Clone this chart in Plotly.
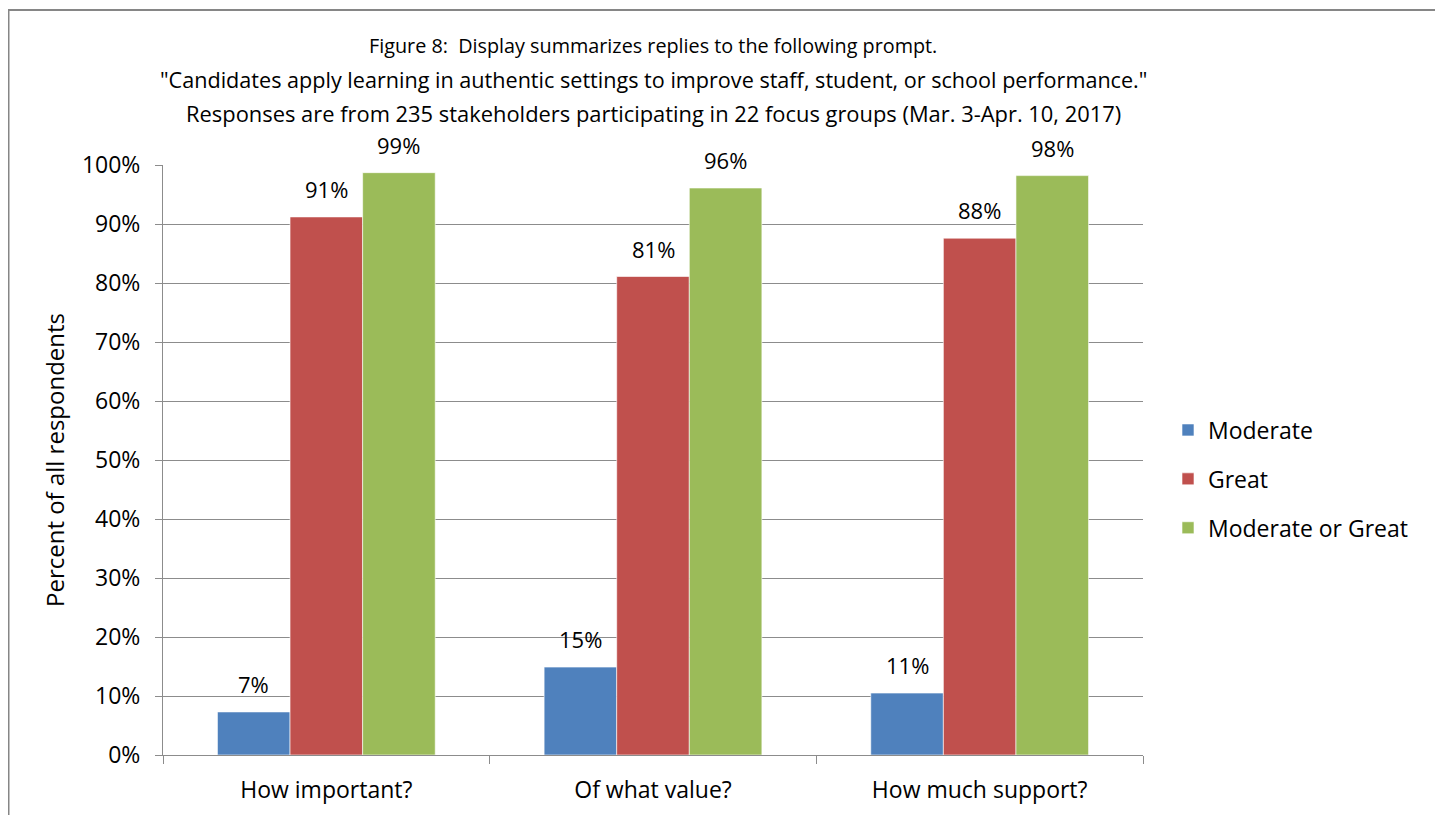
import plotly.graph_objects as go

categories = ["How important?", "Of what value?", "How much support?"]
series_names = ["Moderate", "Great", "Moderate or Great"]
moderate = [7.3, 14.9, 10.5]
great = [91.2, 81.1, 87.6]
moderate_or_great = [98.7, 96.1, 98.2]
labels_moderate = ["7%", "15%", "11%"]
labels_great = ["91%", "81%", "88%"]
labels_mog = ["99%", "96%", "98%"]
colors = ["#4F81BD", "#C0504D", "#9BBB59"]
y_ticks = [0, 10, 20, 30, 40, 50, 60, 70, 80, 90, 100]
y_tick_text = [f"{t}%" for t in y_ticks]
title_lines = [
    "Figure 8:&nbsp; Display summarizes replies to the following prompt.",
    "\"Candidates apply learning in authentic settings to improve staff, student, or school performance.\"",
    "Responses are from 235 stakeholders participating in 22 focus groups (Mar. 3-Apr. 10, 2017)",
]

FONT = "Open Sans"
OFF = 8  # page body margin
W, H = 1443, 815
L, R, T, B = 163 - OFF, 1143 - OFF, 165 - OFF, 755 - OFF
pw, ph = R - L, B - T


def py2paper(p):
    return (B - (p - OFF)) / ph


def px2paper(p):
    return ((p - OFF) - L) / pw


fig = go.Figure()
all_vals = [moderate, great, moderate_or_great]
all_labels = [labels_moderate, labels_great, labels_mog]
for name, vals, col in zip(series_names, all_vals, colors):
    fig.add_trace(go.Bar(
        x=categories, y=vals, name=name, legendgroup=name,
        marker=dict(color=col, line=dict(color="white", width=0.6)),
    ))

# data labels
cat_w = pw / len(categories)
bar_w = cat_w * (1 - 1/3) / 3
annotations = []
for si, (vals, labs) in enumerate(zip(all_vals, all_labels)):
    off = (si - 1) * bar_w
    for c, v, lab in zip(categories, vals, labs):
        annotations.append(dict(
            x=c, y=v, xref="x", yref="y", text=lab, showarrow=False,
            xshift=off, yshift=11, yanchor="bottom",
            font=dict(family=FONT, size=22, color="#000000"),
        ))

# title lines
for p, line, fs in zip([46, 80, 114], title_lines, [19.8, 21.6, 21.9]):
    annotations.append(dict(
        x=0.5, y=py2paper(p), xref="paper", yref="paper", text=line,
        showarrow=False, xanchor="center", yanchor="middle",
        font=dict(family=FONT, size=fs, color="#000000"),
    ))

fig.update_layout(
    width=W, height=H,
    margin=dict(l=L, r=W - R, t=T, b=H - B, pad=0),
    paper_bgcolor="white", plot_bgcolor="white",
    barmode="group", bargap=1/3, bargroupgap=0,
    font=dict(family=FONT, size=23, color="#000000"),
    annotations=annotations,
    showlegend=True,
    legend=dict(
        x=px2paper(1168), y=py2paper(479), xanchor="left", yanchor="middle",
        font=dict(family=FONT, size=23, color="#000000"),
        traceorder="grouped", tracegroupgap=16, itemwidth=30,
        bgcolor="rgba(0,0,0,0)",
    ),
    shapes=[dict(
        type="rect", xref="paper", yref="paper",
        x0=(0.5 - L) / pw, x1=px2paper(1437),
        y0=py2paper(840), y1=py2paper(10),
        line=dict(color="#868686", width=2), fillcolor="rgba(0,0,0,0)",
        layer="below",
    )],
)

fig.update_yaxes(
    range=[0, 100], tickvals=y_ticks, ticktext=y_tick_text,
    showgrid=True, gridcolor="#8C8C8C", gridwidth=1,
    showline=True, linecolor="#8C8C8C", linewidth=1,
    ticks="outside", ticklen=7, tickcolor="#8C8C8C",
    ticklabelstandoff=10,
    tickfont=dict(family=FONT, size=23, color="#000000"),
    title=dict(text="Percent of all respondents", standoff=10,
               font=dict(family=FONT, size=24, color="#000000")),
    zeroline=False, fixedrange=True,
)
fig.update_xaxes(
    showline=True, linecolor="#8C8C8C", linewidth=1,
    ticks="outside", ticklen=8, tickcolor="#8C8C8C", tickson="boundaries",
    ticklabelstandoff=14,
    tickfont=dict(family=FONT, size=23, color="#000000"),
    fixedrange=True,
)

fig.write_html("out.html")
